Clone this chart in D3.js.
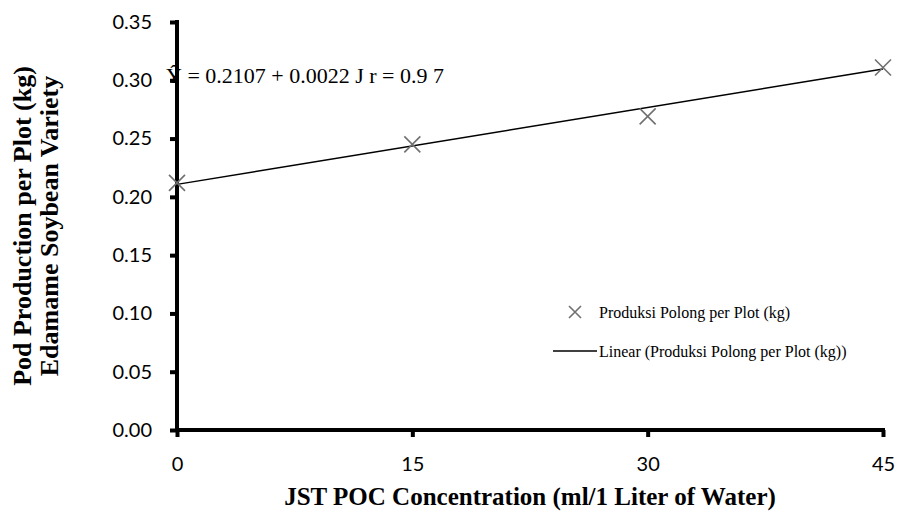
<!DOCTYPE html>
<html>
<head>
<meta charset="utf-8">
<script src="https://cdn.jsdelivr.net/npm/d3@7"></script>
<style>
body { margin: 0; background: #fff; }
.tick text { font-family: Lato, "Open Sans", sans-serif; font-size: 20px; fill: #000; }
</style>
</head>
<body>
<div class="chart"></div>
<script>
var concentrations = [0, 15, 30, 45];
var podProduction = [0.212, 0.245, 0.269, 0.311];
var yTicks = [0, 0.05, 0.10, 0.15, 0.20, 0.25, 0.30, 0.35];
var xTicks = [0, 15, 30, 45];
var intercept = 0.2107;
var slope = 0.0022;

var x = d3.scaleLinear().domain([0, 45]).range([177, 883]);
var y = d3.scaleLinear().domain([0, 0.35]).range([430, 22]);

var svg = d3.select(".chart").append("svg")
	.attr("width", 899)
	.attr("height", 517);

// axes
var yAxis = svg.append("g").attr("transform", "translate(" + x(0) + ",0)")
	.call(d3.axisLeft(y).tickValues(yTicks).tickFormat(d3.format(".2f")).tickSize(7).tickPadding(18));
var xAxis = svg.append("g").attr("transform", "translate(0," + y(0) + ")")
	.call(d3.axisBottom(x).tickValues(xTicks).tickSize(7).tickPadding(20));
[yAxis, xAxis].forEach(function(a) {
	a.select(".domain").remove();
	a.selectAll(".tick line").attr("stroke", "#000").attr("stroke-width", 4);
});
svg.append("line").attr("x1", x(0)).attr("x2", x(0)).attr("y1", y(0.35) - 2).attr("y2", y(0) + 2)
	.attr("stroke", "#000").attr("stroke-width", 4);
svg.append("line").attr("x1", x(0) - 2).attr("x2", x(45) + 2).attr("y1", y(0)).attr("y2", y(0))
	.attr("stroke", "#000").attr("stroke-width", 4);

// trend line
svg.append("line")
	.attr("x1", x(0)).attr("y1", y(intercept))
	.attr("x2", x(45)).attr("y2", y(intercept + slope * 45))
	.attr("stroke", "#000").attr("stroke-width", 1.5);

// markers
function cross(g, cx, cy, r) {
	g.append("path")
		.attr("d", "M" + (cx - r) + "," + (cy - r) + "L" + (cx + r) + "," + (cy + r) +
			"M" + (cx - r) + "," + (cy + r) + "L" + (cx + r) + "," + (cy - r))
		.attr("stroke", "#707070").attr("stroke-width", 1.6).attr("fill", "none");
}
concentrations.forEach(function(c, i) {
	cross(svg, x(c), y(podProduction[i]), 8);
});

// equation
svg.append("text").attr("x", 166).attr("y", 83)
	.style("font-family", "'Liberation Serif', 'Times New Roman', serif").style("font-size", "22px")
	.text("\u0176 = 0.2107 + 0.0022 J r = 0.9 7");

// legend
cross(svg, 575, 312, 6);
svg.append("text").attr("x", 599).attr("y", 318)
	.style("font-family", "'Liberation Serif', serif").style("font-size", "16px")
	.text("Produksi Polong per Plot (kg)");
svg.append("line").attr("x1", 553).attr("x2", 597).attr("y1", 351).attr("y2", 351)
	.attr("stroke", "#000").attr("stroke-width", 1.3);
svg.append("text").attr("x", 599).attr("y", 357)
	.style("font-family", "'Liberation Serif', serif").style("font-size", "16px")
	.text("Linear (Produksi Polong per Plot (kg))");

// axis titles
svg.append("text").attr("x", 530).attr("y", 505).attr("text-anchor", "middle")
	.style("font-family", "'Liberation Serif', serif").style("font-size", "25px").style("font-weight", "bold")
	.text("JST POC Concentration (ml/1 Liter of Water)");
var yt = svg.append("text").attr("transform", "translate(0,226) rotate(-90)").attr("text-anchor", "middle")
	.style("font-family", "'Liberation Serif', serif").style("font-size", "26px").style("font-weight", "bold");
yt.append("tspan").attr("x", 0).attr("y", 31).text("Pod Production per Plot (kg)");
yt.append("tspan").attr("x", 0).attr("y", 58).text("Edamame Soybean Variety");
</script>
</body>
</html>
